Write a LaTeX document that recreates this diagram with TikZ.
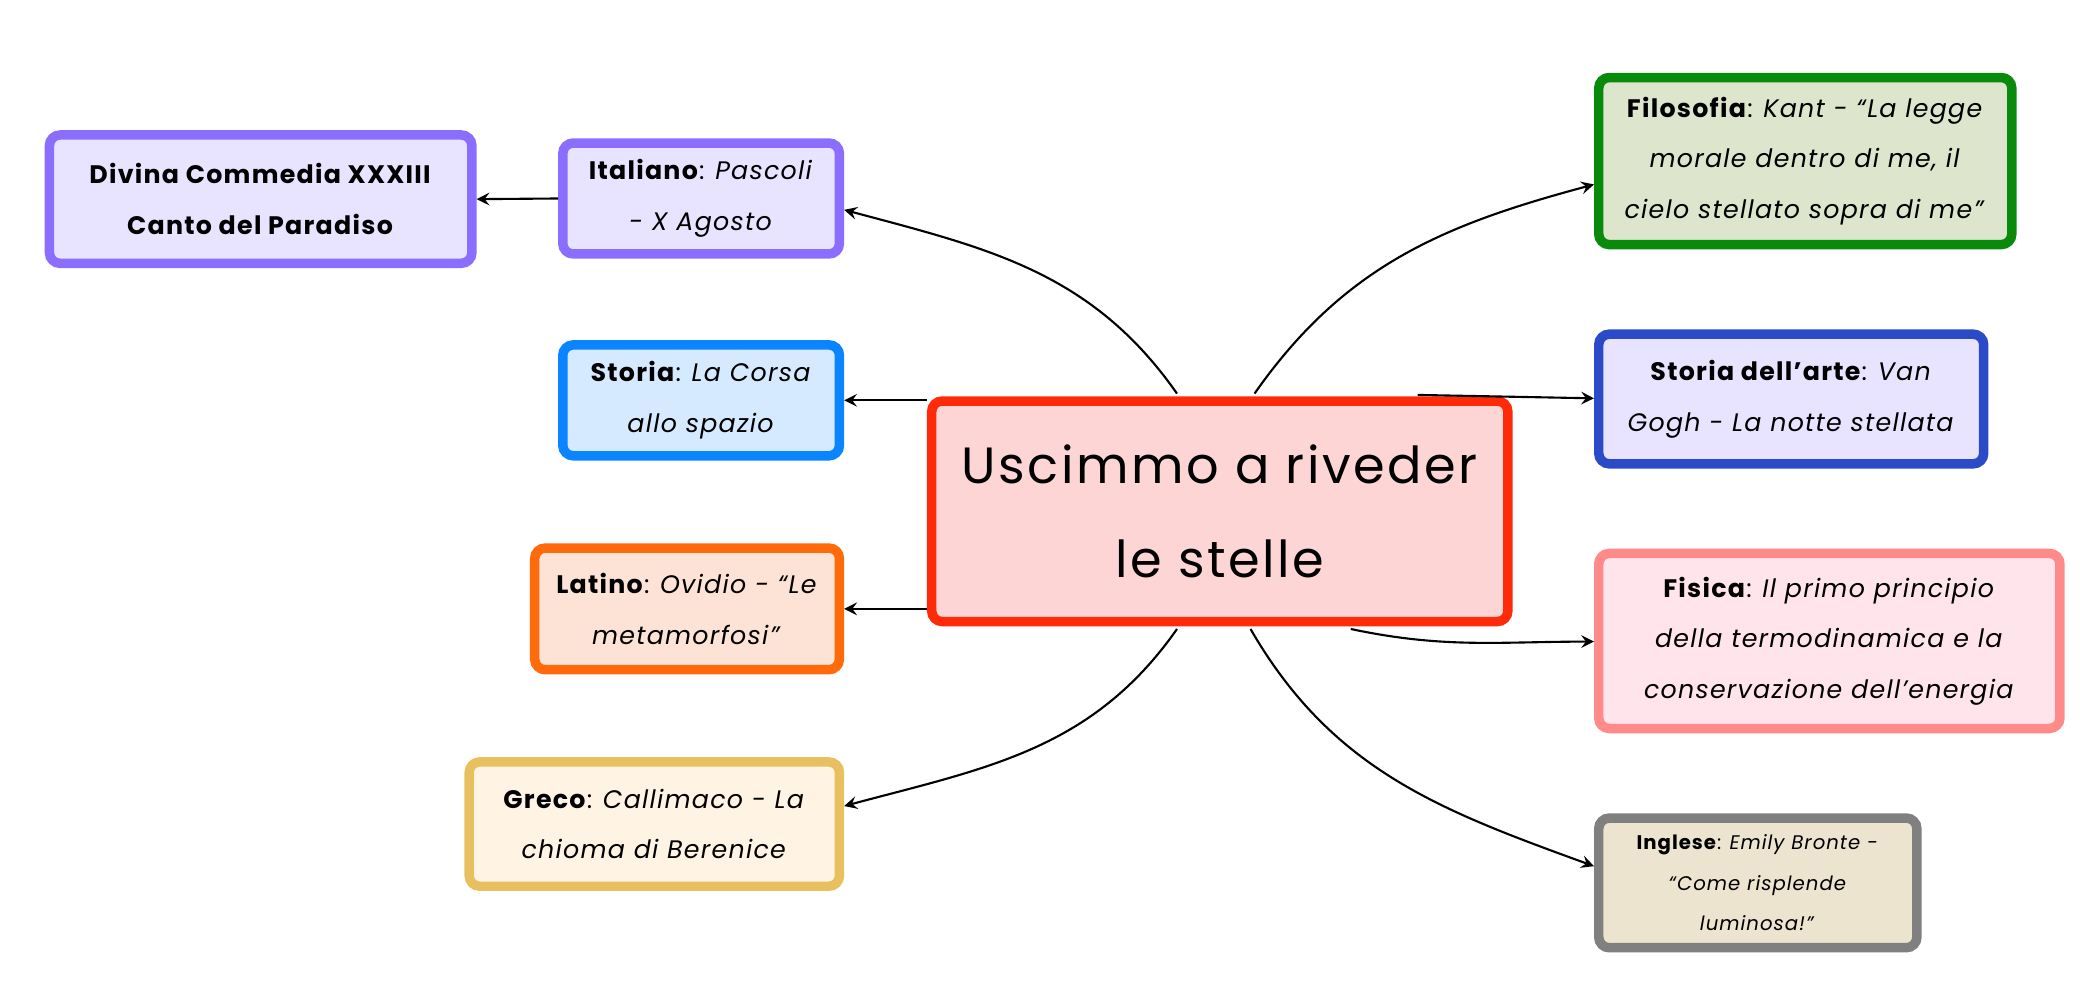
\documentclass[tikz,border=0pt]{standalone}
\usepackage{fontspec}
\setmainfont[LetterSpace=5]{Poppins}
\usetikzlibrary{positioning}
\usetikzlibrary{calc}
\definecolor{redline}{HTML}{FF2A0A}
\definecolor{redfill}{HTML}{FDD5D5}
\definecolor{violetline}{HTML}{8C6EFF}
\definecolor{violetfill}{HTML}{E8E4FF}
\definecolor{blueline}{HTML}{0A84FF}
\definecolor{bluefill}{HTML}{D6EAFF}
\definecolor{orangeline}{HTML}{FF6A0A}
\definecolor{orangefill}{HTML}{FDE3D5}
\definecolor{yellowline}{HTML}{E8C060}
\definecolor{yellowfill}{HTML}{FFF4E4}
\definecolor{greenline}{HTML}{0A8A0A}
\definecolor{greenfill}{HTML}{DDE5CC}
\definecolor{navyline}{HTML}{2A4AC8}
\definecolor{pinkline}{HTML}{FF8A8A}
\definecolor{pinkfill}{HTML}{FFE4EC}
\definecolor{greyline}{HTML}{808080}
\definecolor{greyfill}{HTML}{EDE4D0}
\newcommand\px{0.013368cm}

\begin{document}
\begin{tikzpicture} [x=\px, y=-\px,
            box/.style={draw, rectangle, rounded corners=3pt, line width=2.7pt,
              align=center, inner sep=2pt, font=\fontsize{7.2}{14.4}\selectfont},
            link/.style={->, >=stealth, semithick, black},
         every node/.append style={align=center}]
\useasboundingbox (0,0) rectangle (1568,752);

%centre
\node (centre) at (912.5,382.5) [box, draw=redline, fill=redfill, minimum width=431*\px,
  minimum height=165*\px, font=\fontsize{14.5}{27}\selectfont]
  {Uscimmo a riveder\\le stelle};

%left
\node (divina) at (195,149) [box, draw=violetline, fill=violetfill, minimum width=316*\px,
  minimum height=96*\px] {\textbf{Divina Commedia XXXIII}\\\textbf{Canto del Paradiso}};
\node (italiano) at (524.5,148.5) [box, draw=violetline, fill=violetfill, minimum width=207*\px,
  minimum height=83*\px] {\textbf{Italiano}: \textit{Pascoli}\\\textit{- X Agosto}};
\node (storia) at (524.5,299.5) [box, draw=blueline, fill=bluefill, minimum width=207*\px,
  minimum height=83*\px] {\textbf{Storia}: \textit{La Corsa}\\\textit{allo spazio}};
\node (latino) at (514,455.5) [box, draw=orangeline, fill=orangefill, minimum width=228*\px,
  minimum height=91*\px] {\textbf{Latino}: \textit{Ovidio - “Le}\\\textit{metamorfosi"}};
\node (greco) at (489.5,616.5) [box, draw=yellowline, fill=yellowfill, minimum width=277*\px,
  minimum height=93*\px] {\textbf{Greco}: \textit{Callimaco - La}\\\textit{chioma di Berenice}};

%right
\node (filosofia) at (1350.5,120.5) [box, draw=greenline, fill=greenfill, minimum width=309*\px,
  minimum height=125*\px] {\textbf{Filosofia}: \textit{Kant - “La legge}\\\textit{morale dentro di me, il}\\\textit{cielo stellato sopra di me”}};
\node (arte) at (1340,298.5) [box, draw=navyline, fill=violetfill, minimum width=288*\px,
  minimum height=97*\px] {\textbf{Storia dell’arte}: \textit{Van}\\\textit{Gogh - La notte stellata}};
\node (fisica) at (1368.5,479.5) [box, draw=pinkline, fill=pinkfill, minimum width=345*\px,
  minimum height=131*\px] {\textbf{Fisica}: \textit{Il primo principio}\\\textit{della termodinamica e la}\\\textit{conservazione dell’energia}};
\node (inglese) at (1315,660.5) [box, draw=greyline, fill=greyfill, minimum width=238*\px,
  minimum height=97*\px, font=\fontsize{5.6}{11.5}\selectfont]
  {\textbf{Inglese}: \textit{Emily Bronte -}\\\textit{“Come risplende}\\\textit{luminosa!”}};

%links
\draw [link] (italiano.west) -- (divina.east);
\draw [link] ($(centre.north)+(-32,-2)$) to[out=125,in=-15] (italiano.east |- 0,157);
\draw [link] (centre.west |- storia) -- (storia.east);
\draw [link] (centre.west |- latino) -- (latino.east);
\draw [link] ($(centre.south)+(-32,2)$) to[out=-125,in=15] (greco.east |- 0,603);
\draw [link] ($(centre.north)+(26,-2)$) to[out=55,in=195] (filosofia.west |- 0,138);
\draw [link] ($(centre.north)+(148,-1)$) -- (arte.west |- 0,298);
\draw [link] ($(centre.south)+(98,2)$) to[out=-12,in=180] (fisica.west |- 0,480);
\draw [link] ($(centre.south)+(23,2)$) to[out=-60,in=160] (inglese.west |- 0,648);
\end{tikzpicture}
\end{document}
